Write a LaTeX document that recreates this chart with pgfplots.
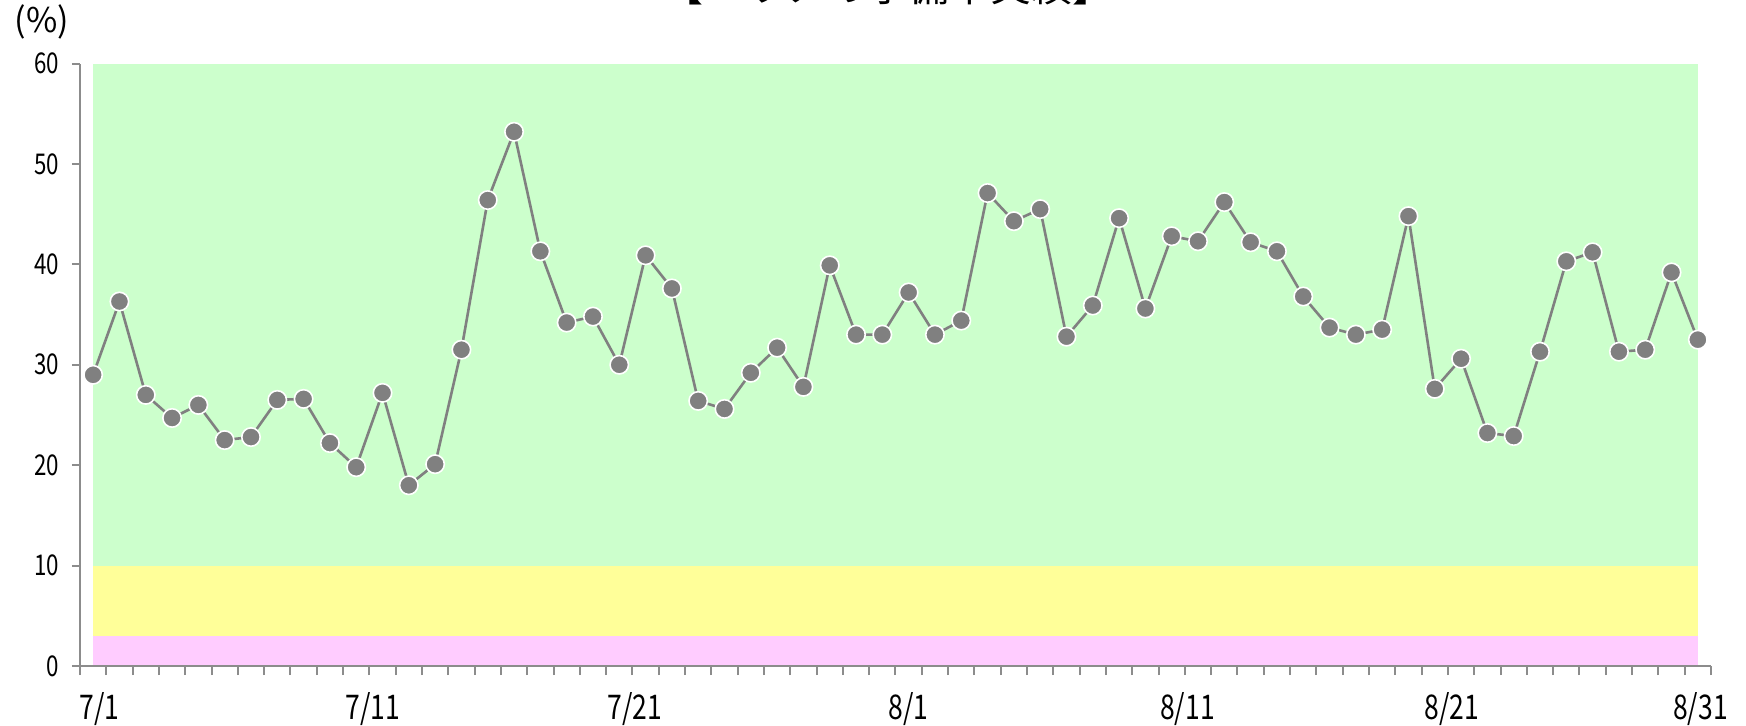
\documentclass[border=0pt]{standalone}
\usepackage{pgfplots}
\pgfplotsset{compat=1.18}
\usepackage{fontspec}
\setmainfont{Noto Sans CJK JP}
\newfontfamily\narrowfont[FakeStretch=0.78]{Noto Sans CJK JP}
\definecolor{bandgreen}{HTML}{CCFFCC}
\definecolor{bandyellow}{HTML}{FFFF99}
\definecolor{bandpink}{HTML}{FFCCFF}
\definecolor{linegray}{HTML}{808080}
\definecolor{axisgray}{HTML}{8C8C8C}
\pgfplotstableread{
x y
0 29.0
1 36.3
2 27.0
3 24.7
4 26.0
5 22.5
6 22.8
7 26.5
8 26.6
9 22.2
10 19.8
11 27.2
12 18.0
13 20.1
14 31.5
15 46.4
16 53.2
17 41.3
18 34.2
19 34.8
20 30.0
21 40.9
22 37.6
23 26.4
24 25.6
25 29.2
26 31.7
27 27.8
28 39.9
29 33.0
30 33.0
31 37.2
32 33.0
33 34.4
34 47.1
35 44.3
36 45.5
37 32.8
38 35.9
39 44.6
40 35.6
41 42.8
42 42.3
43 46.2
44 42.2
45 41.3
46 36.8
47 33.7
48 33.0
49 33.5
50 44.8
51 27.6
52 30.6
53 23.2
54 22.9
55 31.3
56 40.3
57 41.2
58 31.3
59 31.5
60 39.2
61 32.5
}\datatable
\begin{document}
\begin{tikzpicture}
\begin{axis}[
  scale only axis, width=815.5pt, height=301.25pt,
  at={(0,0)}, anchor=south west,
  xmin=-0.5, xmax=61.5, ymin=0, ymax=60,
  axis x line*=bottom, axis y line*=left,
  axis line style={axisgray, line width=1pt, -},
  axis on top,
  /pgf/number format/assume math mode=true,
  ytick={0,10,...,60},
  yticklabel style={font=\narrowfont\fontsize{14.3}{14.3}\selectfont, xshift=-3pt},
  xtick={0.25,10.63,20.6,31.0,41.6,51.65,61.1},
  xticklabels={7/1,7/11,7/21,8/1,8/11,8/21,8/31},
  xticklabel style={font=\narrowfont\fontsize{17}{17}\selectfont, yshift=-5.7pt},
  major x tick style={draw=none},
  minor xtick={-0.5,0.5,...,61.5},
  tick style={axisgray, line width=1pt},
  tick align=outside,
  major tick length=4pt, minor tick length=4.5pt,
  clip=false,
]
\addplot[draw=none, fill=bandgreen] coordinates {(0,60) (61,60)} \closedcycle;
\addplot[draw=none, fill=bandyellow] coordinates {(0,10) (61,10)} \closedcycle;
\addplot[draw=none, fill=bandpink] coordinates {(0,3) (61,3)} \closedcycle;
\addplot[linegray, line width=1.3pt, mark=*, mark size=4.6pt,
  mark options={fill=linegray, draw=white, line width=0.8pt}] table[x=x,y=y] {\datatable};
\end{axis}
\node[anchor=base, font=\fontsize{20.5}{20.5}\selectfont] at (404pt,332pt) {【エリアの予備率実績】};
\node[font=\fontsize{17}{17}\selectfont] at (-19pt,322pt) {(\%)};
\pgfresetboundingbox
\useasboundingbox (-40pt,-29.5pt) rectangle (833pt,333pt);
\end{tikzpicture}
\end{document}
